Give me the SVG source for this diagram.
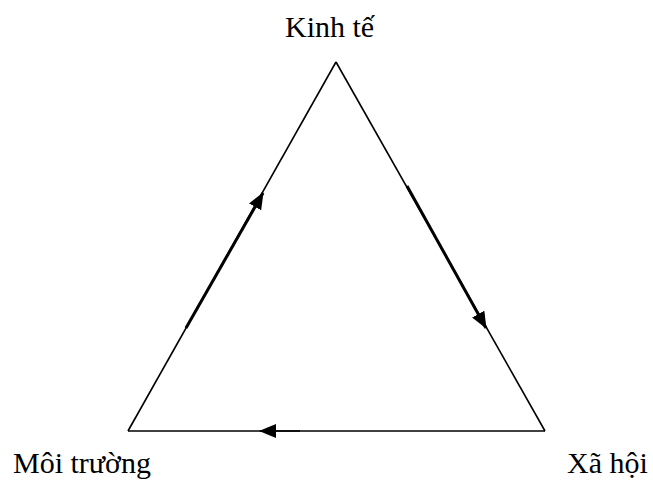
<svg xmlns="http://www.w3.org/2000/svg" width="653" height="481" viewBox="0 0 653 481">
<style>
.lbl{font-family:"Liberation Serif","Times New Roman",serif;font-size:30px;fill:#000}
.side{stroke:#000;stroke-width:1.6;fill:none}
.thick{stroke:#000;stroke-width:3;fill:none}
</style>
<defs>
<marker id="ah" markerUnits="userSpaceOnUse" markerWidth="17" markerHeight="14" refX="16" refY="7" orient="auto">
<path d="M0,0 L17,7 L0,14 Z" fill="#000"/>
</marker>
</defs>
<rect width="653" height="481" fill="#fff"/>
<g id="connectors">
<line class="side" x1="128" y1="431" x2="336" y2="62"/>
<line class="side" x1="336" y1="62" x2="545" y2="431"/>
<line class="side" x1="545" y1="431" x2="128" y2="431" stroke-width="2"/>
<line class="thick" x1="186" y1="328" x2="263" y2="193" marker-end="url(#ah)"/>
<line class="thick" x1="407" y1="186" x2="486" y2="328" marker-end="url(#ah)"/>
<line class="side" x1="300" y1="431" x2="260" y2="431" stroke-width="2" marker-end="url(#ah)"/>
</g>
<g id="kinh-te"><text class="lbl" x="285" y="37">Kinh tế</text></g>
<g id="moi-truong"><text class="lbl" x="13" y="473">Môi trường</text></g>
<g id="xa-hoi"><text class="lbl" x="567" y="473">Xã hội</text></g>
</svg>
